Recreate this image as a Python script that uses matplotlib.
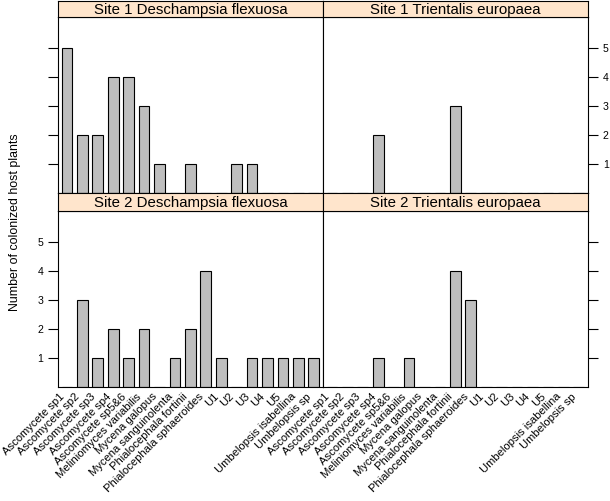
import numpy as np
import matplotlib.pyplot as plt
import matplotlib.transforms as mtransforms

plt.rcParams['font.family'] = ['Liberation Sans', 'DejaVu Sans']

# fungal taxa (x categories)
taxa = ["Ascomycete sp1", "Ascomycete sp2", "Ascomycete sp3", "Ascomycete sp4",
        "Ascomycete sp5&6", "Meliniomyces variabilis", "Mycena galopus",
        "Mycena sanguinolenta", "Phialocephala fortinii", "Phialocephala sphaeroides",
        "U1", "U2", "U3", "U4", "U5", "Umbelopsis isabellina", "Umbelopsis sp"]

# number of colonized host plants per panel
site1_desch = [5, 2, 2, 4, 4, 3, 1, 0, 1, 0, 0, 1, 1, 0, 0, 0, 0]
site1_trient = [0, 0, 0, 2, 0, 0, 0, 0, 3, 0, 0, 0, 0, 0, 0, 0, 0]
site2_desch = [0, 3, 1, 2, 1, 2, 0, 1, 2, 4, 1, 0, 1, 1, 1, 1, 1]
site2_trient = [0, 0, 0, 1, 0, 1, 0, 0, 4, 3, 0, 0, 0, 0, 0, 0, 0]

panel_titles = ["Site 1 Deschampsia flexuosa", "Site 1 Trientalis europaea",
                "Site 2 Deschampsia flexuosa", "Site 2 Trientalis europaea"]
panel_data = [site1_desch, site1_trient, site2_desch, site2_trient]

W, H = 610, 501
fig = plt.figure(figsize=(W / 100, H / 100), dpi=100)

def px_axes(x0, y0, x1, y1):
    # pixel box (top-left origin) -> figure axes
    return fig.add_axes([x0 / W, (H - y1) / H, (x1 - x0) / W, (y1 - y0) / H])

cols = [(58, 323), (323, 588)]
rows = [(1, 17, 193), (193, 211, 387)]  # strip top, panel top, panel bottom

x = np.arange(1, len(taxa) + 1)
strip_col = "#FFE5CC"
bar_col = "#BEBEBE"

for k in range(4):
    r, c = divmod(k, 2)
    st, pt, pb = rows[r]
    x0, x1 = cols[c]

    ax = px_axes(x0, pt, x1, pb)
    ax.bar(x, panel_data[k], width=0.69, color=bar_col, edgecolor="black", linewidth=0.8)
    ax.set_xlim(0.42, 17.6)
    ax.set_ylim(0, 6.06)
    ax.set_yticks([1, 2, 3, 4, 5])
    for s in ax.spines.values():
        s.set_linewidth(0.8)

    ax.tick_params(axis='y', direction='out', length=7.5, width=0.8, labelsize=7.6, pad=3.2)
    if c == 0:
        ax.tick_params(axis='y', left=True, right=False, labelleft=(r == 1), labelright=False)
    else:
        ax.tick_params(axis='y', left=False, right=True, labelleft=False, labelright=(r == 0))

    if r == 1:
        ax.set_xticks(x)
        ax.set_xticklabels(taxa, rotation=45, ha='right', va='center',
                           rotation_mode='anchor', fontsize=8.1)
        ax.tick_params(axis='x', length=0, pad=5.7)
        off = mtransforms.ScaledTranslation(-4 / 100, 0, fig.dpi_scale_trans)
        for lab in ax.get_xticklabels():
            lab.set_transform(lab.get_transform() + off)
    else:
        ax.set_xticks([])

    sax = px_axes(x0, st, x1, pt)
    sax.set_facecolor(strip_col)
    sax.set_xticks([])
    sax.set_yticks([])
    for s in sax.spines.values():
        s.set_linewidth(0.8)
    sax.text(0.5, 0.45, panel_titles[k], ha='center', va='center', fontsize=10.8,
             transform=sax.transAxes)

fig.text(15 / W, 1 - 222 / H, "Number of colonized host plants", rotation=90,
         ha='center', va='center', fontsize=8.9)

fig.savefig("out.png", dpi=100)
